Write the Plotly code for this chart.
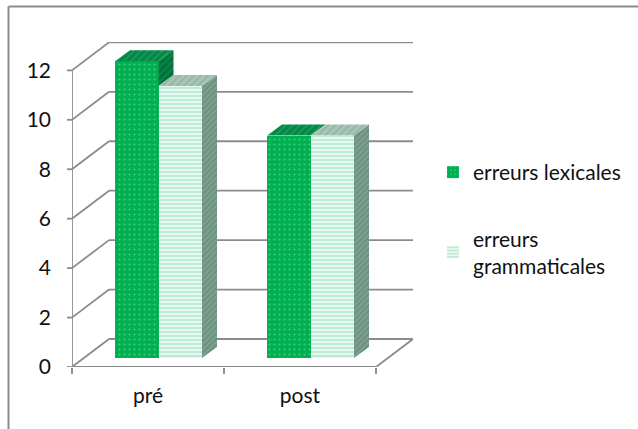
import plotly.graph_objects as go

categories = ["pré", "post"]
series_names = ["erreurs lexicales", "erreurs<br>grammaticales"]
lexicales = [12, 9]
grammaticales = [11, 9]
y_ticks = [0, 2, 4, 6, 8, 10, 12]

PX_X = 152.0   # px per category
PX_Y = 24.72   # px per value unit
L, R, T, B = 72, 413, 42, 367
W, H = 638, 429
xmin = -0.5
xmax = xmin + (R - L) / PX_X
ymax = (B - T) / PX_Y
gx, gy = 37 / PX_X, 28 / PX_Y      # wall depth
dx, dy = 15 / PX_X, 11 / PX_Y      # bar depth
bar_w = 43.5 / PX_X
floor = 9 / PX_Y
shift = 10.5 / PX_X
GRID = "#8c8c8c"
GREEN = "#00b050"
FONT = "Lato, Carlito, Open Sans, sans-serif"

fig = go.Figure()


def poly(xs, ys, color, pat, fg, size=5, sol=0.35):
    fig.add_trace(go.Scatter(x=xs, y=ys, mode="lines", fill="toself", line=dict(width=0, color=color),
                             fillcolor=color,
                             fillpattern=dict(shape=pat, fgcolor=fg, bgcolor=color, size=size, solidity=sol),
                             hoverinfo="skip", showlegend=False))


# front faces
xc = [i + shift for i in range(len(categories))]
fig.add_trace(go.Bar(x=[c - bar_w / 2 for c in xc], y=lexicales, base=floor, width=bar_w, name=series_names[0],
                     legendgroup="a",
                     marker=dict(color=GREEN, line_width=0,
                                 pattern=dict(shape=".", fgcolor="#7fe0ab", bgcolor=GREEN, size=5, solidity=0.15)),
                     hoverinfo="skip"))
fig.add_trace(go.Bar(x=[c + bar_w / 2 for c in xc], y=grammaticales, base=floor, width=bar_w, name=series_names[1],
                     legendgroup="b",
                     marker=dict(color="#e6f8ef", line_width=0,
                                 pattern=dict(shape="-", fgcolor="#6fd2a3", bgcolor="#e6f8ef", size=4, solidity=0.35)),
                     hoverinfo="skip"))

# 3-D sides and tops; the lexicales side stops where the neighbouring bar begins
for i, (a, b) in enumerate(zip(lexicales, grammaticales)):
    c = i + shift
    x0, x1, x2 = c - bar_w, c, c + bar_w
    f = floor
    poly([x1, x1 + dx, x1 + dx, x1], [f + a, f + a + dy, f + b + dy, f + b], "#00733a", "/", "#1f9a5c", 5, 0.3)
    poly([x0, x0 + dx, x1 + dx, x1], [f + a, f + a + dy, f + a + dy, f + a], "#008a45", "/", "#45a873", 5, 0.3)
    poly([x2, x2 + dx, x2 + dx, x2], [f + b, f + b + dy, f + dy, f], "#7f9f90", "/", "#4f7f68", 4, 0.45)
    poly([x1, x1 + dx, x2 + dx, x2], [f + b, f + b + dy, f + b + dy, f + b], "#a9c5b6", "/", "#7fa792", 5, 0.4)


def seg(xs, ys):
    return [dict(type="line", xref="x", yref="y", x0=xs[k], x1=xs[k + 1], y0=ys[k], y1=ys[k + 1],
                 line=dict(color=GRID, width=1.8), layer="below") for k in range(len(xs) - 1)]


shapes = seg([-0.5, -0.5], [0, 12])
for t in y_ticks:
    if t == 0:
        shapes += seg([-0.5, -0.5 + gx, 1.5 + gx, 1.5, -0.5], [0, gy, gy, 0, 0])
    else:
        shapes += seg([-0.5, -0.5 + gx, 1.5 + gx], [t, t + gy, t + gy])
    shapes.append(dict(type="line", xref="paper", yref="y", x0=-5 / (R - L), x1=0, y0=t, y1=t,
                       line=dict(color=GRID, width=1.8), layer="below"))

# outer frame: only the top and left edges fall inside the picture
fx0, fx1 = (8.5 - L) / (R - L), (W + 2 - L) / (R - L)
fy0, fy1 = (B - H - 2) / (B - T), (B - 6.5) / (B - T)
frame = dict(color="#8c8c8c", width=2)
shapes.append(dict(type="line", xref="paper", yref="paper", x0=fx0, x1=fx1, y0=fy1, y1=fy1, line=frame, layer="below"))
shapes.append(dict(type="line", xref="paper", yref="paper", x0=fx0, x1=fx0, y0=fy0, y1=fy1, line=frame, layer="below"))

fig.update_layout(
    width=W, height=H, barmode="overlay", bargap=0,
    margin=dict(l=L, r=W - R, t=T, b=H - B, pad=0, autoexpand=False),
    paper_bgcolor="white", plot_bgcolor="rgba(0,0,0,0)",
    font=dict(family=FONT, size=21, color="#111111"),
    legend=dict(x=(433 - L) / (R - L), y=(B - 152) / (B - T), xanchor="left", yanchor="top",
                font=dict(size=21), tracegroupgap=36, itemwidth=30, traceorder="grouped",
                bgcolor="rgba(0,0,0,0)"),
    xaxis=dict(range=[xmin, xmax], tickmode="array", tickvals=list(range(len(categories))),
               ticktext=categories, ticks="", showgrid=False, zeroline=False, showline=False,
               ticklabelstandoff=14,
               minor=dict(tickmode="array", tickvals=[-0.5, 0.5, 1.5], ticks="outside", ticklen=6,
                          tickcolor=GRID, tickwidth=1.8, showgrid=False)),
    yaxis=dict(range=[0, ymax], tickmode="array", tickvals=y_ticks, ticks="", showgrid=False,
               zeroline=False, showline=False, ticklabelstandoff=20),
    shapes=shapes,
)
fig.write_html("out.html", config=dict(displayModeBar=False),
               post_script="document.body.style.margin='0';")
